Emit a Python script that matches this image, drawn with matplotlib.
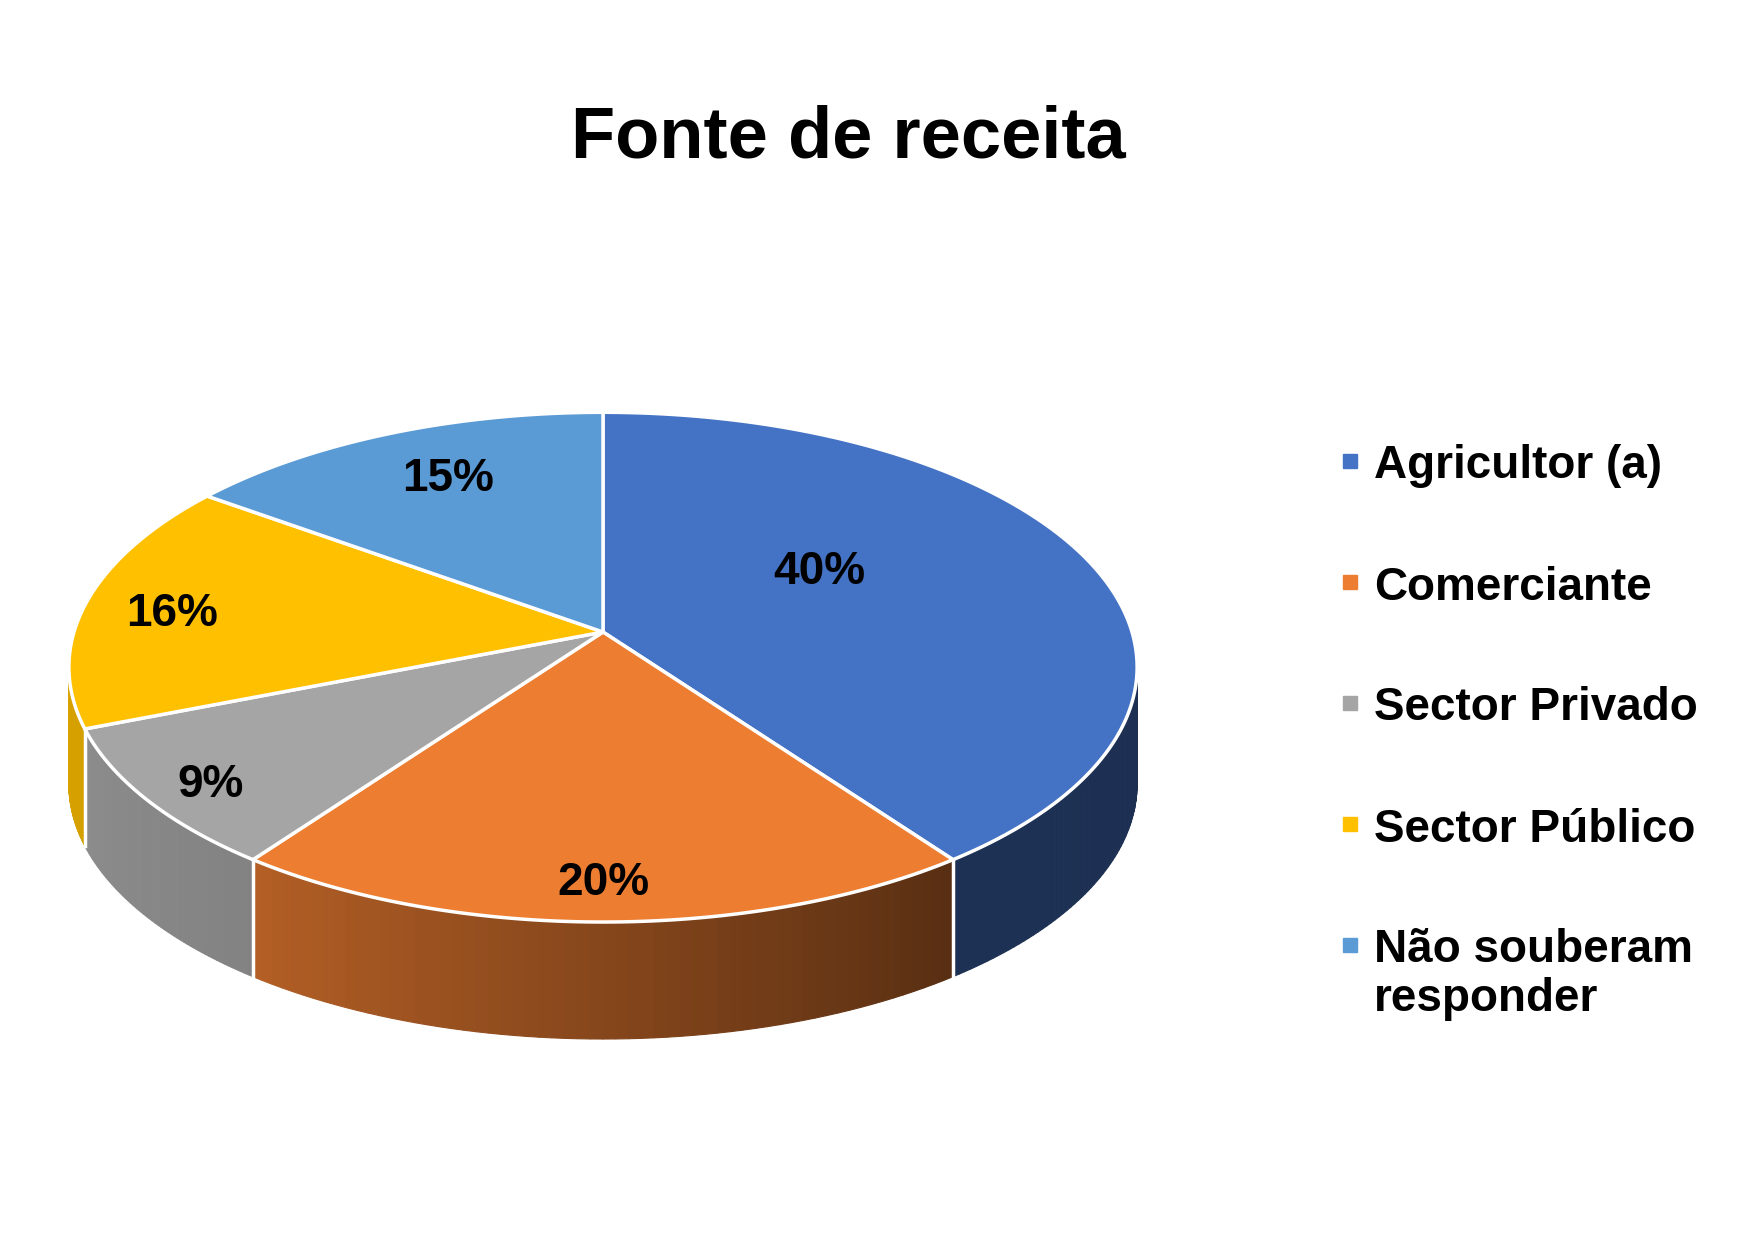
import numpy as np
import matplotlib
matplotlib.use('Agg')
import matplotlib.pyplot as plt
from matplotlib.patches import Polygon
from matplotlib.colors import to_rgb

titulo = 'Fonte de receita'
categorias = ['Agricultor (a)', 'Comerciante', 'Sector Privado', 'Sector Público',
              'Não souberam\nresponder']
percentuais = [40, 20, 9, 16, 15]
cores = ['#4472C4', '#ED7D31', '#A5A5A5', '#FFC000', '#5B9BD5']

# sombra lateral (esquerda, direita) de cada fatia
sombras = [(0.43, 0.42), (0.76, 0.37), (0.85, 0.79), (0.85, 0.83), (0.5, 0.5)]
# posicao dos rotulos no disco: raio e desvio angular
lbl_r = [0.50, 0.87, 0.88, 0.83, 0.76]
lbl_d = [14, 0, 1, 1, -2]

# geometria em pixels
CX, CY = 603, 632
RX, RY = 529, 250
K = 0.138
ESP = 117


def proj(r, t_deg):
    t = np.radians(t_deg)
    u = r * np.cos(t)
    v = r * np.sin(t)
    d = 1 + K * v
    return CX + RX * u / d, CY - RY * v / d


def main():
    plt.rcParams['font.family'] = ['Liberation Sans', 'DejaVu Sans']
    fig = plt.figure(figsize=(17.49, 12.41), dpi=100)
    ax = fig.add_axes([0, 0, 1, 1])
    ax.set_xlim(0, 1749)
    ax.set_ylim(1241, 0)
    ax.axis('off')

    total = sum(percentuais)
    cum = np.concatenate([[0], np.cumsum(percentuais)]) / total
    t_ini = 90 - 360 * cum[:-1]
    t_fim = 90 - 360 * cum[1:]

    a0 = np.degrees(np.arcsin(K))
    lo, hi = -180 + a0, -a0

    # laterais
    for i in range(len(percentuais)):
        a, b = max(t_fim[i], lo), min(t_ini[i], hi)
        if a >= b:
            continue
        base = np.array(to_rgb(cores[i]))
        n = 60
        ts = np.linspace(a, b, n + 1)
        for j in range(n):
            f = (j + 0.5) / n
            s = sombras[i][0] + (sombras[i][1] - sombras[i][0]) * f
            x0, y0 = proj(1, ts[j])
            x1, y1 = proj(1, ts[j + 1])
            pts = [(x0, y0), (x1, y1), (x1, y1 + ESP), (x0, y0 + ESP)]
            c = np.clip(base * s, 0, 1)
            ax.add_patch(Polygon(pts, closed=True, facecolor=c, edgecolor=c,
                                 lw=0.8, zorder=1))

    for tb in t_fim[:-1]:
        if lo < tb < hi:
            x, y = proj(1, tb)
            ax.plot([x, x], [y, y + ESP], color='white', lw=2.5, zorder=2)

    # topo
    for i in range(len(percentuais)):
        ts = np.linspace(t_ini[i], t_fim[i], 200)
        xs, ys = proj(1, ts)
        pts = [proj(0, 0)] + list(zip(xs, ys))
        ax.add_patch(Polygon(pts, closed=True, facecolor=cores[i],
                             edgecolor='white', lw=2.5, joinstyle='round',
                             zorder=3))

    # rotulos
    for i, p in enumerate(percentuais):
        tm = (t_ini[i] + t_fim[i]) / 2 + lbl_d[i]
        x, y = proj(lbl_r[i], tm)
        ax.text(x, y + 4, f'{p}%', fontsize=33, fontweight='bold',
                ha='center', va='center', color='black', zorder=5)

    ax.text(848, 139, titulo, fontsize=52, fontweight='bold',
            ha='center', va='center', color='black')

    # legenda
    ly0, ldy = 461, 121
    for i, cat in enumerate(categorias):
        y = ly0 + i * ldy
        ax.plot(1350, y, marker='s', markersize=9.4, color=cores[i],
                linestyle='none')
        ax.text(1374, y - 16.5, cat, fontsize=33, fontweight='bold',
                ha='left', va='top', color='black', linespacing=1.13)

    fig.savefig('out.png', dpi=100)


if __name__ == '__main__':
    main()
